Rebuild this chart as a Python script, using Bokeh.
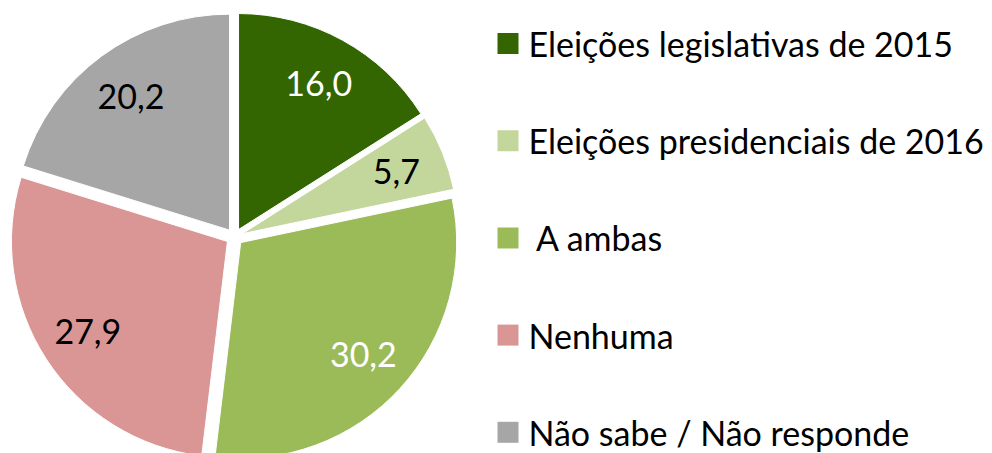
import math
from bokeh.plotting import figure
from bokeh.models import Range1d, ColumnDataSource
from bokeh.core.properties import value
from bokeh.embed import file_html
from bokeh.resources import INLINE

# ---- data ----
categories = ["Eleições legislativas de 2015", "Eleições presidenciais de 2016",
              "\u00a0A ambas", "Nenhuma", "Não sabe / Não responde"]
values = [16.0, 5.7, 30.2, 27.9, 20.2]

# ---- styles ----
colors = ["#336600", "#C3D69B", "#9BBB59", "#D99694", "#A6A6A6"]
label_colors = ["white", "black", "white", "black", "black"]
FONT = "Lato"
FS = 34

W, H = 992, 453
cx, cy = 234.0, 216.6   # pie centre (px)
R = 216.0
explode = 8.4
label_frac = 0.77

total = sum(values)
xs, ys, starts, ends, lx, ly, texts = [], [], [], [], [], [], []
cum = 0.0
for v in values:
    f0 = cum / total
    cum += v
    f1 = cum / total
    a0 = math.pi / 2 - 2 * math.pi * f0
    a1 = math.pi / 2 - 2 * math.pi * f1
    mid = (a0 + a1) / 2
    ox = cx + explode * math.cos(mid)
    oy = cy + explode * math.sin(mid)
    xs.append(ox); ys.append(oy); starts.append(a0); ends.append(a1)
    lx.append(ox + label_frac * R * math.cos(mid))
    ly.append(oy + label_frac * R * math.sin(mid))
    texts.append(f"{v:.1f}".replace(".", ","))

p = figure(width=W, height=H, x_range=Range1d(0, W), y_range=Range1d(0, H),
           output_backend="svg", toolbar_location=None, min_border=0,
           x_axis_location=None, y_axis_location=None)
p.grid.visible = False
p.outline_line_color = None
p.background_fill_color = "white"
p.border_fill_color = "white"

src = ColumnDataSource(dict(x=xs, y=ys, s=starts, e=ends, c=colors))
p.wedge(x="x", y="y", radius=R, start_angle="s", end_angle="e", direction="clock",
        fill_color="c", line_color="white", line_width=1, source=src)

lsrc = ColumnDataSource(dict(x=lx, y=ly, t=texts, c=label_colors))
p.text(x="x", y="y", text="t", text_color="c", text_font=value(FONT),
       text_font_size=f"{FS}px", text_align="center", text_baseline="middle",
       source=lsrc)

# legend
leg_top = 410.0
leg_step = 97.2
n = len(categories)
sq_x = [507.5] * n
sq_y = [leg_top - i * leg_step for i in range(n)]
p.rect(x=sq_x, y=sq_y, width=21, height=21, fill_color=colors, line_color=None)
tx = [528.0] * n
p.text(x=tx, y=sq_y, text=categories, text_color="black", text_font=value(FONT),
       text_font_size=f"{FS}px", text_align="left", text_baseline="middle")

open("out.html", "w").write(file_html(p, INLINE))
